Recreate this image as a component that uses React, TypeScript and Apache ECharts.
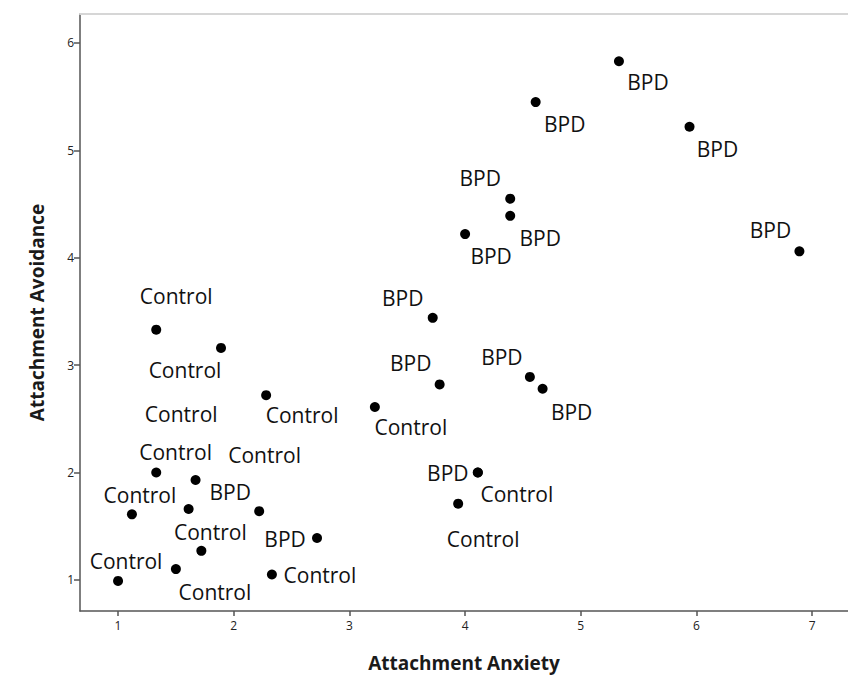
import React, { useEffect, useRef } from "react";
import * as echarts from "echarts";

// Attachment Anxiety (x), Attachment Avoidance (y)
const bpdPoints: [number, number][] = [
  [5.33, 5.83], [4.61, 5.45], [5.94, 5.22], [4.39, 4.55], [4.39, 4.39],
  [4.0, 4.22], [6.89, 4.06], [3.72, 3.44], [3.78, 2.82], [4.56, 2.89],
  [4.67, 2.78], [4.11, 2.0], [2.22, 1.64], [2.72, 1.39],
];
const controlPoints: [number, number][] = [
  [3.22, 2.61], [4.11, 2.0], [3.94, 1.71], [1.33, 3.33], [1.89, 3.16],
  [2.28, 2.72], [1.33, 2.0], [1.67, 1.93], [1.61, 1.66], [1.12, 1.61],
  [1.72, 1.27], [1.5, 1.1], [1.0, 0.99], [2.33, 1.05],
];
const xTicks = [1, 2, 3, 4, 5, 6, 7];
const yTicks = [1, 2, 3, 4, 5, 6];

// label placement (pixel offsets from each point)
const bpdLabelOffsets: [number, number][] = [
  [29, 21], [29, 22], [28, 22], [-30, -21], [30, 22],
  [26, 22], [-29, -21], [-30, -20], [-29, -21], [-28, -20],
  [29, 23], [-30, 1], [-29, -19], [-32, 1],
];
const controlLabelOffsets: [number, number][] = [
  [36, 20], [39, 22], [25, 35], [20, -34], [-36, 22],
  [36, 20], [25, -58], [69, -25], [-13, -57], [8, -19],
  [9, -19], [39, 23], [8, -20], [48, 1],
];

const FONT = "'Open Sans', 'DejaVu Sans', sans-serif";

function buildData(points: [number, number][], offsets: [number, number][]) {
  return points.map((p, i) => ({
    value: p,
    label: { offset: offsets[i] },
  }));
}

export default function App() {
  const ref = useRef<HTMLDivElement>(null);
  useEffect(() => {
    if (!ref.current) return;
    const chart = echarts.init(ref.current, null, { renderer: "svg" });
    const labelStyle = {
      show: true,
      position: "inside",
      align: "center",
      verticalAlign: "middle",
      formatter: "{a}",
      color: "#111",
      fontSize: 21,
      fontFamily: FONT,
    };
    const itemStyle = { color: "#000", opacity: 1 };
    chart.setOption({
      animation: false,
      backgroundColor: "#ffffff",
      grid: { left: 80, right: 0, top: 14, bottom: 72 },
      xAxis: [
        {
          type: "value",
          min: 0.671,
          max: 7.31,
          name: "Attachment Anxiety",
          nameLocation: "middle",
          nameGap: 42,
          nameTextStyle: { fontSize: 19, fontWeight: "bold", color: "#1a1a1a", fontFamily: FONT },
          splitLine: { show: false },
          axisLine: { show: true, lineStyle: { color: "#555", width: 1.5 } },
          axisTick: { show: true, customValues: xTicks, length: 5, lineStyle: { color: "#555", width: 1.5 } },
          axisLabel: { customValues: xTicks, fontSize: 12, color: "#222", margin: 8, fontFamily: FONT },
        },
        {
          type: "value",
          position: "top",
          min: 0.671,
          max: 7.31,
          splitLine: { show: false },
          axisLine: { show: true, onZero: false, lineStyle: { color: "#d6d6d6", width: 2 } },
          axisTick: { show: false },
          axisLabel: { show: false },
        },
      ],
      yAxis: {
        type: "value",
        min: 0.71,
        max: 6.27,
        name: "Attachment Avoidance",
        nameLocation: "middle",
        nameGap: 34,
        nameTextStyle: { fontSize: 19, fontWeight: "bold", color: "#1a1a1a", fontFamily: FONT },
        splitLine: { show: false },
        axisLine: { show: true, lineStyle: { color: "#555", width: 1.5 } },
        axisTick: { show: true, customValues: yTicks, length: 6, lineStyle: { color: "#555", width: 1.5 } },
        axisLabel: { customValues: yTicks, fontSize: 12, color: "#222", margin: 6, fontFamily: FONT },
      },
      series: [
        {
          name: "BPD",
          type: "scatter",
          symbolSize: 10,
          itemStyle,
          label: labelStyle,
          data: buildData(bpdPoints, bpdLabelOffsets),
        },
        {
          name: "Control",
          type: "scatter",
          symbolSize: 10,
          itemStyle,
          label: labelStyle,
          data: buildData(controlPoints, controlLabelOffsets),
        },
      ],
    });
    return () => chart.dispose();
  }, []);
  return (
    <div
      ref={ref}
      style={{ position: "fixed", left: 0, top: 0, width: 848, height: 683, background: "#fff" }}
    />
  );
}
